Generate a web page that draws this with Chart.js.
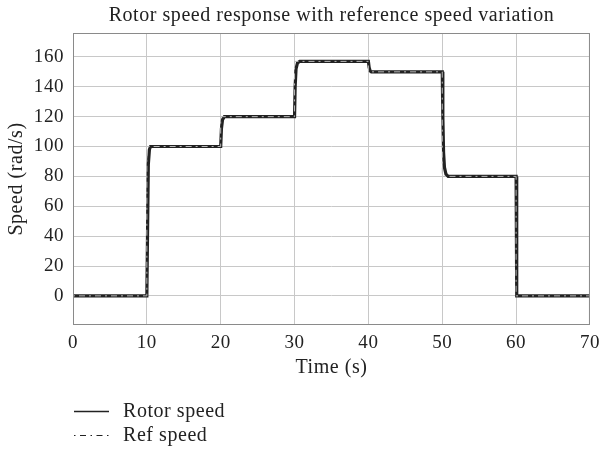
<!DOCTYPE html>
<html>
<head>
<meta charset="utf-8">
<script src="https://cdn.jsdelivr.net/npm/chart.js@4.4.1/dist/chart.umd.min.js"></script>
<style>
  html, body { margin: 0; padding: 0; background: #fff; }
  #wrap { width: 607px; height: 451px; }
</style>
</head>
<body>
<div id="wrap"><canvas id="speed-chart" width="607" height="451"></canvas></div>
<script>
// rotor speed (simulated), sampled around each step
const rotorTime  = [0, 10, 10.1, 10.2, 10.35, 10.5, 20, 20.1, 20.25, 20.5, 30, 30.08, 30.2, 30.4, 30.7, 40, 40.1, 40.25, 40.4, 50, 50.08, 50.18, 50.3, 50.5, 50.8, 60, 60.05, 60.12, 70];
const rotorSpeed = [0, 0, 45, 88, 98, 100, 100, 112, 118, 120, 120, 140, 152, 156, 157, 157, 153, 150.5, 150, 150, 120, 96, 86, 81.5, 80, 80, 25, 0, 0];

// reference speed steps
const refTime  = [0, 10, 10, 20, 20, 30, 30, 40, 40, 50, 50, 60, 60, 70];
const refSpeed = [0, 0, 100, 100, 120, 120, 157, 157, 150, 150, 80, 80, 0, 0];

const xTicks = [0, 10, 20, 30, 40, 50, 60, 70];
const yTicks = [0, 20, 40, 60, 80, 100, 120, 140, 160];

const chartTitle = 'Rotor speed response with reference speed variation';
const legendLabels = ['Rotor speed', 'Ref speed'];

const FONT = '"Liberation Serif", "DejaVu Serif", serif';
const SPACING = '0.55px';

function toPoints(xs, ys) {
    return xs.map((x, i) => ({ x: x, y: ys[i] }));
}

// slightly wider text all over
const spacingPlugin = {
    id: 'spacing',
    beforeLayout(chart) { chart.ctx.letterSpacing = SPACING; },
    beforeDraw(chart) { chart.ctx.letterSpacing = SPACING; }
};

// frame round the plot area, title centred over it, legend under the x axis title
const framePlugin = {
    id: 'frame',
    afterDatasetsDraw(chart) {
        const { ctx, chartArea: a } = chart;
        ctx.save();
        ctx.strokeStyle = '#8a8a8a';
        ctx.lineWidth = 1;
        ctx.strokeRect(a.left + 0.5, a.top + 0.5, a.right - a.left - 1, a.bottom - a.top - 1);
        ctx.restore();
    },
    afterDraw(chart) {
        const { ctx, chartArea: a } = chart;
        const x0 = a.left + 1;
        ctx.save();
        ctx.letterSpacing = SPACING;
        ctx.font = '20px ' + FONT;
        ctx.fillStyle = '#222';
        ctx.textBaseline = 'middle';
        ctx.strokeStyle = '#222';

        ctx.textAlign = 'center';
        ctx.fillText(chartTitle, (a.left + a.right) / 2, 16);
        ctx.textAlign = 'left';

        // Rotor speed
        let y = 411.5;
        ctx.lineWidth = 1.5;
        ctx.setLineDash([]);
        ctx.beginPath();
        ctx.moveTo(x0, y);
        ctx.lineTo(x0 + 35, y);
        ctx.stroke();
        ctx.fillText(legendLabels[0], x0 + 49, y);

        // Ref speed
        y = 435.5;
        ctx.lineWidth = 1;
        ctx.setLineDash([1.5, 4.5, 6, 4.5]);
        ctx.beginPath();
        ctx.moveTo(x0, y);
        ctx.lineTo(x0 + 35, y);
        ctx.stroke();
        ctx.setLineDash([]);
        ctx.fillText(legendLabels[1], x0 + 49, y);
        ctx.restore();
    }
};

const ctx = document.getElementById('speed-chart').getContext('2d');
new Chart(ctx, {
    type: 'line',
    data: {
        datasets: [
            {
                label: legendLabels[0],
                data: toPoints(rotorTime, rotorSpeed),
                borderColor: '#222',
                borderWidth: 3.2,
                pointRadius: 0,
                tension: 0,
                order: 2
            },
            {
                label: legendLabels[1],
                data: toPoints(refTime, refSpeed),
                borderColor: '#b8b8b8',
                borderWidth: 1,
                borderDash: [2, 4, 6, 4],
                pointRadius: 0,
                tension: 0,
                order: 1
            }
        ]
    },
    options: {
        responsive: false,
        animation: false,
        layout: { padding: { left: 0, right: 16, top: 33, bottom: 71 } },
        plugins: {
            legend: { display: false },
            tooltip: { enabled: false },
            title: { display: false }
        },
        scales: {
            x: {
                type: 'linear',
                min: 0,
                max: 70,
                afterBuildTicks: (scale) => { scale.ticks = xTicks.map(v => ({ value: v })); },
                afterFit: (scale) => { scale.height = 55; },
                ticks: { color: '#222', font: { family: FONT, size: 19 }, padding: 7 },
                grid: { color: '#c8c8c8', drawTicks: false },
                border: { display: false },
                title: {
                    display: true,
                    text: 'Time (s)',
                    color: '#222',
                    font: { family: FONT, size: 20 },
                    padding: { top: 0, bottom: 0 }
                }
            },
            y: {
                min: -19.5,
                max: 176,
                afterBuildTicks: (scale) => { scale.ticks = yTicks.map(v => ({ value: v })); },
                afterFit: (scale) => { scale.width = 73; },
                ticks: { color: '#222', font: { family: FONT, size: 19 }, padding: 9 },
                grid: { color: '#c8c8c8', drawTicks: false },
                border: { display: false },
                title: {
                    display: true,
                    text: 'Speed (rad/s)',
                    color: '#222',
                    font: { family: FONT, size: 20 },
                    padding: { top: 5, bottom: 0 }
                }
            }
        }
    },
    plugins: [spacingPlugin, framePlugin]
});
</script>
</body>
</html>
